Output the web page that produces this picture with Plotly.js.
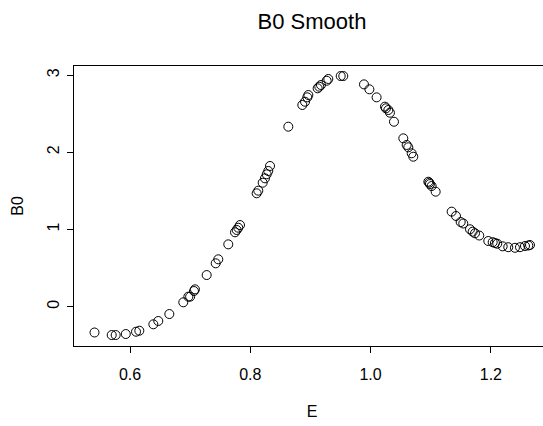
<!DOCTYPE html>
<html>
<head>
<meta charset="utf-8">
<script src="https://cdn.plot.ly/plotly-3.0.1.min.js"></script>
<style>
  html, body { margin: 0; padding: 0; overflow: hidden; background: #fff; }
  #plot { width: 552px; height: 426px; }
</style>
</head>
<body>
<div id="plot"></div>
<script>
// Energy grid and smoothed B0 estimates
const E = [
  0.541, 0.5696, 0.5762, 0.593, 0.610, 0.6155, 0.6388, 0.647, 0.6654, 0.6886,
  0.697, 0.700, 0.7064, 0.708, 0.7275, 0.7425, 0.7468, 0.7634, 0.7746, 0.7774,
  0.780, 0.7829, 0.8106, 0.8133, 0.8206, 0.8244, 0.8273, 0.8299, 0.8328, 0.8632,
  0.8865, 0.891, 0.8948, 0.8965, 0.912, 0.9147, 0.9175, 0.927, 0.9297, 0.9503,
  0.9546, 0.989, 0.998, 1.010, 1.0239, 1.0256, 1.0295, 1.0322, 1.0389, 1.0544,
  1.060, 1.0627, 1.0683, 1.071, 1.096, 1.0975, 1.0987, 1.1015, 1.1082, 1.1348,
  1.142, 1.1498, 1.1541, 1.1653, 1.1697, 1.1736, 1.1807, 1.1957, 1.203, 1.2068,
  1.2106, 1.2196, 1.2289, 1.240, 1.2484, 1.2567, 1.2622, 1.265
];
const B0 = [
  -0.334, -0.367, -0.367, -0.354, -0.324, -0.311, -0.228, -0.185, -0.095, 0.057,
  0.130, 0.130, 0.203, 0.225, 0.410, 0.562, 0.614, 0.808, 0.964, 0.994,
  1.023, 1.058, 1.469, 1.503, 1.606, 1.663, 1.715, 1.758, 1.823, 2.332,
  2.613, 2.655, 2.712, 2.742, 2.829, 2.850, 2.872, 2.927, 2.950, 2.988,
  2.988, 2.880, 2.816, 2.712, 2.591, 2.570, 2.548, 2.513, 2.396, 2.181,
  2.095, 2.065, 1.987, 1.943, 1.619, 1.606, 1.589, 1.563, 1.490, 1.231,
  1.175, 1.097, 1.078, 1.003, 0.972, 0.951, 0.922, 0.851, 0.836, 0.825,
  0.816, 0.782, 0.771, 0.763, 0.771, 0.786, 0.793, 0.799
];
const xTicks = [0.6, 0.8, 1.0, 1.2];
const xTickText = ["0.6", "0.8", "1.0", "1.2"];
const yTicks = [0, 1, 2, 3];
const yTickText = ["0", "1", "2", "3"];

const FONT = "Liberation Sans, Arial, Helvetica, sans-serif";

const trace = {
  x: E,
  y: B0,
  type: "scatter",
  mode: "markers",
  marker: {
    symbol: "circle-open",
    size: 9,
    color: "#000",
    line: { color: "#000", width: 1 }
  },
  hoverinfo: "x+y"
};

const axisBase = {
  showline: true,
  linecolor: "#000",
  linewidth: 1,
  ticks: "outside",
  ticklen: 6,
  tickwidth: 1,
  tickcolor: "#000",
  showgrid: false,
  zeroline: false,
  tickfont: { family: FONT, size: 16, color: "#000" }
};

const layout = {
  width: 552,
  height: 426,
  margin: { l: 74, r: 2, t: 66, b: 80 },
  paper_bgcolor: "#fff",
  plot_bgcolor: "#fff",
  showlegend: false,
  font: { family: FONT, color: "#000" },
  title: {
    text: "B0 Smooth",
    font: { family: FONT, size: 22, color: "#000" },
    x: 0.5, xref: "paper", xanchor: "center",
    y: 0.950, yref: "container", yanchor: "middle"
  },
  xaxis: Object.assign({}, axisBase, {
    mirror: true,
    range: [0.5069, 1.2983],
    tickmode: "array",
    tickvals: xTicks,
    ticktext: xTickText,
    ticklabelstandoff: 8,
    title: { text: "E", font: { family: FONT, size: 16, color: "#000" }, standoff: 23 }
  }),
  yaxis: Object.assign({}, axisBase, {
    mirror: false,
    range: [-0.509, 3.118],
    tickmode: "array",
    tickvals: yTicks,
    ticktext: yTickText,
    tickangle: -90,
    ticklabelstandoff: 2,
    title: { text: "B0", font: { family: FONT, size: 16, color: "#000" }, standoff: 16 }
  })
};

Plotly.newPlot("plot", [trace], layout, { displayModeBar: false, staticPlot: true });
</script>
</body>
</html>
